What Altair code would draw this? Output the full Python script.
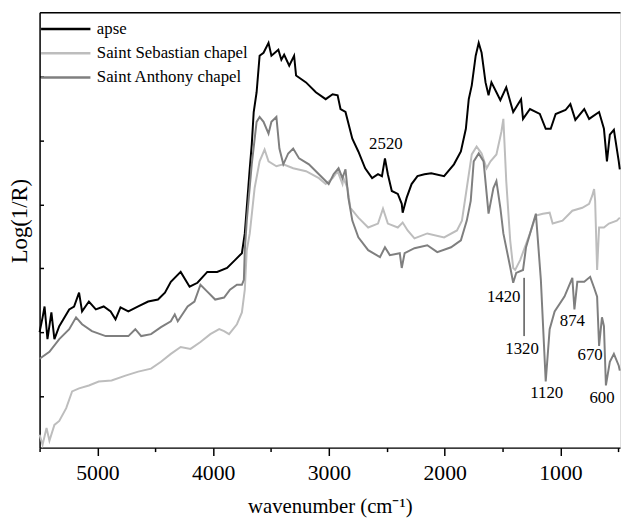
import altair as alt
import pandas as pd

# ---- data (wavenumber cm-1, Log(1/R) arbitrary units) ----
apse_wn = [5500, 5474, 5457, 5432, 5398, 5372, 5330, 5244, 5202, 5159, 5133, 5074, 5014, 4946, 4886,
           4844, 4801, 4733, 4648, 4562, 4477, 4417, 4366, 4281, 4204, 4136, 4051, 3966, 3880, 3812,
           3752, 3727, 3684, 3667, 3650, 3625, 3599, 3565, 3522, 3497, 3437, 3411, 3387, 3343, 3301,
           3284, 3198, 3113, 3028, 2968, 2925, 2900, 2857, 2798, 2746, 2687, 2627, 2576, 2542, 2516,
           2491, 2457, 2405, 2371, 2363, 2329, 2286, 2235, 2175, 2116, 2005, 1920, 1860, 1817, 1792,
           1766, 1732, 1706, 1681, 1647, 1621, 1596, 1553, 1519, 1468, 1408, 1340, 1323, 1263, 1178,
           1127, 1084, 1041, 956, 914, 871, 794, 752, 666, 624, 598, 573, 538, 496, 487]
apse_val = [117, 132, 143, 110, 137, 110, 123, 140, 143, 157, 138, 148, 140, 143, 138,
            130, 142, 138, 143, 148, 150, 157, 168, 178, 163, 167, 178, 178, 182, 190,
            197, 217, 283, 307, 340, 360, 397, 400, 410, 397, 403, 393, 398, 387, 397,
            377, 370, 360, 353, 358, 357, 343, 340, 313, 300, 283, 273, 277, 275, 293,
            277, 260, 257, 247, 238, 253, 267, 275, 277, 278, 275, 287, 300, 323, 353,
            367, 397, 410, 400, 370, 357, 370, 360, 352, 365, 340, 353, 333, 343, 338,
            323, 323, 338, 342, 348, 332, 343, 333, 340, 323, 290, 317, 322, 290, 282]

seb_wn = [5500, 5474, 5440, 5415, 5372, 5330, 5270, 5219, 5159, 5074, 4989, 4878, 4758, 4648, 4537,
          4451, 4366, 4281, 4196, 4110, 4025, 3948, 3906, 3863, 3795, 3752, 3727, 3710, 3684, 3642,
          3599, 3556, 3522, 3454, 3394, 3309, 3198, 3087, 3028, 2968, 2925, 2883, 2874, 2840, 2815,
          2746, 2661, 2576, 2533, 2491, 2405, 2363, 2320, 2261, 2150, 2005, 1894, 1851, 1809, 1766,
          1724, 1681, 1638, 1604, 1553, 1510, 1493, 1468, 1434, 1408, 1391, 1348, 1263, 1212, 1152,
          1093, 1067, 982, 897, 811, 752, 726, 709, 700, 683, 666, 624, 581, 513, 487]
seb_val = [13, 3, 20, 7, 23, 27, 40, 57, 60, 63, 67, 68, 73, 77, 80,
           87, 95, 102, 100, 107, 115, 120, 118, 115, 125, 137, 160, 200, 217, 263,
           290, 302, 290, 285, 287, 283, 280, 273, 267, 273, 280, 267, 273, 263, 243,
           233, 223, 227, 242, 227, 223, 228, 220, 212, 217, 213, 220, 230, 263, 297,
           305, 298, 283, 290, 297, 320, 333, 270, 210, 182, 180, 190, 217, 235, 237,
           238, 227, 230, 240, 243, 247, 255, 262, 250, 180, 223, 223, 227, 230, 233]

ant_wn = [5500, 5415, 5330, 5244, 5185, 5133, 5048, 4929, 4818, 4733, 4673, 4622, 4537, 4451, 4366,
          4332, 4306, 4221, 4162, 4110, 4051, 3983, 3906, 3855, 3795, 3752, 3735, 3727, 3710, 3667,
          3625, 3599, 3565, 3522, 3497, 3454, 3428, 3394, 3352, 3309, 3258, 3173, 3087, 3002, 2960,
          2917, 2883, 2857, 2832, 2798, 2746, 2661, 2559, 2516, 2474, 2388, 2371, 2346, 2261, 2150,
          2064, 1945, 1860, 1809, 1775, 1749, 1706, 1664, 1621, 1579, 1553, 1519, 1493, 1434, 1408,
          1382, 1323, 1297, 1212, 1169, 1127, 1093, 1050, 965, 897, 879, 854, 794, 743, 709,
          683, 666, 641, 624, 607, 573, 538, 496, 487]
ant_val = [90, 97, 110, 120, 132, 125, 118, 113, 113, 113, 120, 113, 115, 122, 128,
           135, 128, 143, 148, 165, 158, 150, 152, 160, 165, 165, 170, 200, 230, 287,
           330, 335, 330, 318, 330, 335, 303, 287, 298, 303, 293, 287, 277, 267, 277,
           283, 273, 282, 253, 230, 213, 200, 193, 203, 195, 197, 182, 197, 202, 205,
           198, 203, 210, 230, 250, 290, 298, 290, 237, 263, 270, 243, 217, 183, 167,
           177, 180, 203, 237, 170, 67, 120, 138, 153, 172, 140, 168, 168, 173, 162,
           153, 103, 132, 123, 63, 87, 95, 83, 78]

series_names = ["apse", "Saint Sebastian chapel", "Saint Anthony chapel"]
series_colors = ["#000000", "#bdbdbd", "#7f7f7f"]

ann_labels = ["2520", "1420", "1320", "1120", "874", "670", "600"]
ann_wn = [2508, 1490, 1331, 1118, 897, 743, 641]
ann_val = [308, 153, 100, 55, 128, 94, 50]

marker_wn = [1314]
marker_top = [172]
marker_bottom = [113]

y_ticks = [52, 117, 182, 246, 311, 376]
x_ticks = [5500, 5000, 4500, 4000, 3500, 3000, 2500, 2000, 1500, 1000, 500]

# ---- tables ----
frames = []
for name, wn, val in [(series_names[0], apse_wn, apse_val),
                      (series_names[1], seb_wn, seb_val),
                      (series_names[2], ant_wn, ant_val)]:
    frames.append(pd.DataFrame({"wn": wn, "val": val, "series": name}))
spectra = pd.concat(frames, ignore_index=True)
ann = pd.DataFrame({"label": ann_labels, "wn": ann_wn, "val": ann_val})
marker = pd.DataFrame({"wn": marker_wn, "top": marker_top, "bottom": marker_bottom})

FONT = "Liberation Serif"
xscale = alt.Scale(domain=[5500, 485], nice=False, zero=False)
yscale = alt.Scale(domain=[0, 441], nice=False, zero=False)

lines = alt.Chart(spectra).mark_line(strokeWidth=2).encode(
    x=alt.X("wn:Q", scale=xscale,
            axis=alt.Axis(orient="bottom", values=x_ticks, format="d",
                          labelExpr="datum.value % 1000 === 0 ? datum.label : ''",
                          tickSize={"condition": {"test": "datum.value % 1000 === 0", "value": 8}, "value": 4},
                          labelPadding=7, labelFontSize=22, labelFont=FONT, labelColor="black",
                          domainColor="black", domainWidth=1.5, tickColor="black", tickWidth=1.5,
                          grid=False, title="wavenumber (cm⁻¹)", titleFont=FONT, titleFontSize=21,
                          titleFontWeight="normal", titleColor="black", titlePadding=13)),
    y=alt.Y("val:Q", scale=yscale,
            axis=alt.Axis(orient="left", labels=False, ticks=False, grid=False,
                          domainColor="black", domainWidth=1.5,
                          title="Log(1/R)", titleFont=FONT, titleFontSize=23,
                          titleFontWeight="normal", titleColor="black", titlePadding=8,
                          titleY=211)),
    color=alt.Color("series:N", sort=series_names,
                    scale=alt.Scale(domain=series_names, range=series_colors),
                    legend=alt.Legend(orient="none", legendX=0, legendY=7, title=None,
                                      symbolType="stroke", symbolSize=2500, symbolStrokeWidth=2.5,
                                      clipHeight=20, rowPadding=4.5, padding=0, labelOffset=5,
                                      labelFont=FONT, labelFontSize=17, labelColor="black")),
)

texts = alt.Chart(ann).mark_text(font=FONT, fontSize=17, color="black",
                                 align="center", baseline="middle").encode(
    x=alt.X("wn:Q", scale=xscale,
            axis=alt.Axis(orient="top", labels=False, ticks=False, grid=False, title=None,
                          domainColor="black", domainWidth=1.5)),
    y=alt.Y("val:Q", scale=yscale,
            axis=alt.Axis(orient="left", values=y_ticks, labels=False, domain=False, grid=False,
                          tickSize=4, tickColor="black", tickWidth=1.5, offset=-4, title=None)),
    text="label:N",
)

rule = alt.Chart(marker).mark_rule(color="black", strokeWidth=1).encode(
    x=alt.X("wn:Q", scale=xscale, axis=None),
    y=alt.Y("top:Q", scale=yscale, axis=None),
    y2="bottom:Q",
)

chart = alt.layer(lines, texts, rule).resolve_axis(x="independent", y="independent").properties(
    width=588, height=441,
    autosize=alt.AutoSizeParams(type="none"),
    padding={"left": 32, "top": 1, "right": 2, "bottom": 74},
).configure_view(stroke=None).configure(background="white", font=FONT)

chart.save("out.html", embed_options={"renderer": "svg", "actions": False})
